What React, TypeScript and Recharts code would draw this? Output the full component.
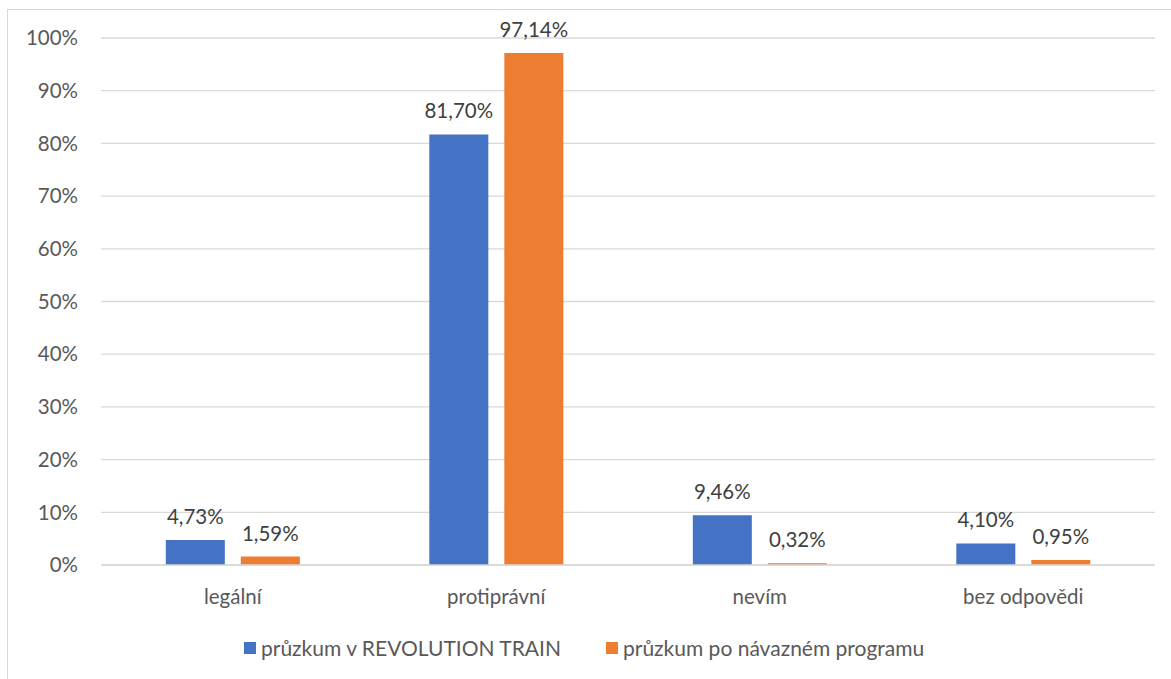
import React from "react";
import { BarChart, Bar, XAxis, YAxis, CartesianGrid, LabelList, Legend } from "recharts";

const categories = ["legální", "protiprávní", "nevím", "bez odpovědi"];
const seriesRevolution = [4.73, 81.7, 9.46, 4.1];
const seriesFollowUp = [1.59, 97.14, 0.32, 0.95];
const yTicks = [0, 10, 20, 30, 40, 50, 60, 70, 80, 90, 100];
const seriesNames = ["průzkum v REVOLUTION TRAIN", "průzkum po návazném programu"];
const colors = ["#4472C4", "#ED7D31"];

const data = categories.map((c, i) => ({ name: c, a: seriesRevolution[i], b: seriesFollowUp[i] }));

const fmt = (v: any) => Number(v).toFixed(2).replace(".", ",") + "%";
const FONT = "Lato, 'Open Sans', sans-serif";

const LegendContent = () => (
  <div style={{ display: "flex", paddingLeft: 244, fontFamily: FONT, fontSize: 21, color: "#595959", lineHeight: "26px" }}>
    {seriesNames.map((n, i) => (
      <div key={n} style={{ display: "flex", alignItems: "center", marginRight: i === 0 ? 45 : 0 }}>
        <span style={{ display: "inline-block", width: 12, height: 12, background: colors[i], marginRight: 5 }} />
        <span>{n}</span>
      </div>
    ))}
  </div>
);

export default function App() {
  return (
    <div style={{ position: "fixed", left: 0, top: 0, width: 1171, height: 679, overflow: "hidden", background: "#fff" }}>
      <div style={{ position: "absolute", left: 7, top: 9, width: 1200, height: 720, border: "1px solid #d9d9d9", boxSizing: "border-box" }} />
      <div style={{ position: "absolute", left: 0, top: 0 }}>
        <BarChart
          width={1171}
          height={679}
          data={data}
          margin={{ top: 38, right: 16, bottom: 0, left: 0 }}
          barCategoryGap="24.6%"
          barGap={16}
        >
          <CartesianGrid vertical={false} stroke="#d9d9d9" strokeWidth={1.3} />
          <XAxis
            dataKey="name"
            tickLine={false}
            axisLine={{ stroke: "#d9d9d9", strokeWidth: 1.3 }}
            tickSize={0}
            tickMargin={24}
            height={88}
            tick={{ fill: "#595959", fontSize: 20.5, fontFamily: FONT }}
          />
          <YAxis
            width={101}
            domain={[0, 100]}
            ticks={yTicks}
            interval={0}
            tickFormatter={(v) => `${v}%`}
            axisLine={false}
            tickLine={false}
            tickSize={0}
            tickMargin={23}
            tick={{ fill: "#595959", fontSize: 20.5, fontFamily: FONT }}
          />
          <Legend
            content={<LegendContent />}
            wrapperStyle={{ position: "absolute", top: 635, left: 0, width: 1171 }}
          />
          <Bar dataKey="a" name={seriesNames[0]} fill={colors[0]} isAnimationActive={false}>
            <LabelList dataKey="a" position="top" offset={16} formatter={fmt} style={{ fill: "#404040", fontSize: 20.5, fontFamily: FONT }} />
          </Bar>
          <Bar dataKey="b" name={seriesNames[1]} fill={colors[1]} isAnimationActive={false}>
            <LabelList dataKey="b" position="top" offset={16} formatter={fmt} style={{ fill: "#404040", fontSize: 20.5, fontFamily: FONT }} />
          </Bar>
        </BarChart>
      </div>
    </div>
  );
}
